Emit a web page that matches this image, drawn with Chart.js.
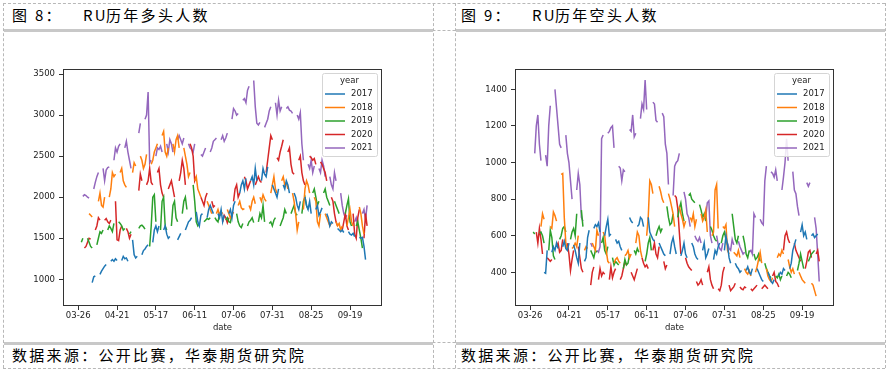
<!DOCTYPE html>
<html>
<head>
<meta charset="utf-8">
<script src="https://cdn.jsdelivr.net/npm/chart.js@4.4.1/dist/chart.umd.min.js"></script>
<style>
    body { margin:0; width:888px; height:371px; position:relative; background:#fff; overflow:hidden; }
    .dash-v { position:absolute; top:3px; height:365px; width:0; border-left:1px dashed #b8b8b8; }
    .dash-h { position:absolute; left:3px; width:882px; height:0; border-top:1px dashed #b8b8b8; }
    .bar { position:absolute; height:3px; background:#c8c8c8; }
    .cap { position:absolute; font-family:"Noto Sans CJK SC"; font-size:15px; line-height:15px; letter-spacing:2.3px; color:#000; white-space:pre; }
    canvas { position:absolute; }
</style>
</head>
<body>
<div class="dash-h" style="top:3px"></div>
<div class="dash-h" style="top:30px"></div>
<div class="dash-h" style="top:342px"></div>
<div class="dash-h" style="top:368px"></div>
<div class="dash-v" style="left:3px"></div>
<div class="dash-v" style="left:433px"></div>
<div class="dash-v" style="left:455px"></div>
<div class="dash-v" style="left:885px"></div>

<div class="bar" style="left:4px;width:429px;top:29px"></div>
<div class="bar" style="left:456px;width:429px;top:29px"></div>
<div class="bar" style="left:4px;width:429px;top:342px"></div>
<div class="bar" style="left:456px;width:429px;top:342px"></div>

<div class="cap" style="left:12px;top:7px">图 8：</div>
<div class="cap" style="left:83px;top:7px">RU</div>
<div class="cap" style="left:106px;top:7px">历年多头人数</div>
<div class="cap" style="left:461px;top:7px">图 9：</div>
<div class="cap" style="left:532px;top:7px">RU</div>
<div class="cap" style="left:555px;top:7px">历年空头人数</div>
<div class="cap" style="left:12px;top:347px">数据来源：公开比赛，华泰期货研究院</div>
<div class="cap" style="left:461px;top:347px">数据来源：公开比赛，华泰期货研究院</div>

<canvas id="longchart" width="429" height="309" style="left:4px;top:33px"></canvas>
<canvas id="shortchart" width="428" height="309" style="left:456px;top:33px"></canvas>

<script>
// years and colours of the series
const years = [2017, 2018, 2019, 2020, 2021]
const colors = ['#1f77b4', '#ff7f0e', '#2ca02c', '#d62728', '#9467bd']
// first trading day of each year in the data
const first_days = ['04-05', '04-02', '03-28', '03-30', '03-29']

// exchange holidays (no trading) inside the window
const holidays_2017 = ['04-03', '04-04', '05-01', '05-29', '05-30']
const holidays_2018 = ['04-05', '04-06', '04-30', '05-01', '06-18', '09-24']
const holidays_2019 = ['04-05', '05-01', '05-02', '05-03', '06-07', '09-13']
const holidays_2020 = ['04-06', '05-01', '05-04', '05-05', '06-25', '06-26']
const holidays_2021 = ['04-05', '05-03', '05-04', '05-05', '06-14', '09-20', '09-21']

// x tick labels and their positions on the date index
const tick_labels = ['03-26', '04-21', '05-17', '06-11', '07-06', '07-31', '08-25', '09-19']
const tick_pos = [0, 25, 50, 75, 100, 125, 150, 175]
const long_ticks = [1000, 1500, 2000, 2500, 3000, 3500]
const short_ticks = [400, 600, 800, 1000, 1200, 1400]

// long positions, one value per trading day
const longs_2017 = [960, 1030, 1040,
    1060, 1100, 1130, 1160, 1180,
    1220, 1240, 1220, 1250, 1230,
    1230, 1280, 1250, 1260, 1220,
    1480, 1300, 1260, 1280,
    1300, 1350, 1370, 1400, 1420,
    1450, 1600, 1650, 1580, 1650,
    1600, 1650, 1550, 1500, 1520,
    1480, 1520, 1560,
    1600, 1650, 1700, 1720, 1750,
    1820, 1700, 1650, 1780, 1800,
    1750, 1850, 1900, 1850, 1800,
    1800, 1750, 1850, 1700, 1780,
    1800, 1850, 1750, 1900, 1950,
    2050, 2150, 2200, 2100, 2230,
    2200, 2250, 2150, 2350, 2200,
    2200, 2350, 2280, 2250, 2370,
    2150, 2100, 2050, 2000, 2100,
    2150, 2100, 2200, 2150, 2050,
    2050, 2000, 1900, 1850, 1950,
    2000, 1900, 1850, 1950, 1800,
    1850, 1900, 1780, 1820, 1870,
    1800, 1750, 1650, 1700, 1680,
    1620, 1600, 1580, 1600, 1570,
    1580, 1550, 1540, 1560, 1520,
    1510, 1500, 1510, 1400, 1240]
const longs_2018 = [1800, 1780, 1760,
    1950, 2050, 1900, 1880, 2000,
    2000, 2100, 2300, 2250, 2280,
    2300, 2350, 2200, 2150, 2120,
    2300, 2420, 2380,
    2500, 2450, 2350, 2400, 2520,
    2400, 2450, 2550, 2600, 2650,
    2750, 2800, 2550, 2500, 2600,
    2650, 2550, 2700, 2750, 2600,
    2600, 2500, 2400, 2250, 2300,
    2200, 2250, 2100, 2050, 2000,
    1950, 1900, 1850, 1800,
    1800, 1850, 1780, 1820, 1800,
    1850, 1800, 1750, 1780, 1820,
    1900, 1950, 1870, 1850, 1860,
    1900, 1850, 1950, 2000, 1920,
    2000, 1950, 2030, 1980, 1950,
    2050, 2150, 2250, 2100, 2050,
    2200, 2250, 2150, 2180, 2100,
    2050, 1950, 1800, 1600, 1700,
    1850, 2100, 2200, 2150, 2050,
    2000, 1950, 1700, 1650, 1800,
    1800, 1750, 1700, 1650, 1680,
    1700, 1650, 1680, 1600, 1650,
    1650, 1750, 1850, 1700, 1650,
    1880, 1800, 1650, 1550]
const longs_2019 = [1450, 1500,
    1500, 1450, 1400, 1380,
    1420, 1500, 1580, 1560, 1600,
    1600, 1650, 1620, 1580, 1680,
    1700, 1680, 1650, 1600, 1620,
    1550, 1580,
    1620, 1650, 1660, 1640, 1610,
    1400, 1650, 2000, 2030, 1700,
    1600, 1950, 2000, 1650, 1600,
    1650, 1900, 1950, 1750, 1700,
    1800, 1950, 2000, 1850,
    2150, 1950, 1700, 1650, 1680,
    1700, 1720, 1740, 1730, 1750,
    1750, 1720, 1700, 1800, 1780,
    1720, 1750, 1700, 1690, 1800,
    1800, 1700, 1650, 1630, 1680,
    1650, 1700, 1720, 1750, 1690,
    1700, 1800, 1750, 1900, 1700,
    1680, 1700, 1650, 1720, 1750,
    1650, 1700, 1750, 1850, 1800,
    1800, 1850, 1900, 1800, 1780,
    1800, 1950, 2000, 1900, 1850,
    2050, 2100, 2000, 1900, 1950,
    2050, 2100, 2000, 1950, 1900,
    1950, 1900, 1850, 1800,
    1800, 1900, 1980, 1700, 1650,
    1650, 1700, 1600, 1500, 1380]
const longs_2020 = [1380, 1400, 1450, 1500, 1490,
    1600, 1650, 1750, 1720,
    1720, 1740, 1700, 1680, 1720,
    1950, 1480, 1470, 1600, 1650,
    1620, 1580, 1500, 1550,
    2080, 2280, 2200,
    2150, 2200, 2350, 2180, 2150,
    2300, 2350, 2150, 2050, 2000,
    2100, 2150, 2200, 2100, 2000,
    2200, 2300, 2450, 2350, 2150,
    2650, 2600, 2500, 2200, 2250,
    2000, 1950, 1900, 2000, 2050,
    1950, 1880, 1900,
    1700, 1780, 1750, 1690, 1750,
    1950, 2100, 2150, 2000, 2050,
    2250, 2200, 2100, 2150, 2200,
    2150, 2200, 2250, 2200, 2180,
    2300, 2450, 2600, 2750, 2700,
    2480, 2450, 2550, 2620, 2700,
    2550, 2600, 2400, 2300, 2280,
    2450, 2500, 2300, 2200, 2150,
    2500, 2480, 2450, 2470, 2400,
    2430, 2400, 2350, 2300, 2200,
    2000, 1950, 1800, 1700, 1650,
    1600, 1700, 1800, 1650, 1600,
    1800, 1550, 1500, 1750, 1850,
    1500, 1800, 1650]
const longs_2021 = [2010, 2030, 2020, 2000, 1990,
    2100, 2180, 2250, 2300,
    2350, 2200, 2330, 2360, 2370,
    2450, 2600, 2550, 2620, 2650,
    2600, 2680, 2550, 2450, 2350,
    2780, 2900,
    2950, 3000, 3280, 2420, 2450,
    2500, 2600, 2580, 2620, 2550,
    2650, 2550, 2700, 2650, 2550,
    2700, 2750, 2700, 2650, 2720,
    2650, 2600, 2580, 2550, 2650,
    2520, 2500, 2550, 2600,
    2550, 2600, 2680, 2700, 2720,
    2700, 2750, 2680, 2720, 2780,
    2950, 3080, 3050, 3000, 3020,
    3180, 3200, 3150, 3300, 3350,
    3420, 3100, 2900, 2880, 2910,
    2850, 2900, 2950, 3050, 3100,
    3150, 3000, 3180, 3050, 3100,
    3080, 3100, 3060, 3050, 3020,
    3000, 2950, 3030, 2650, 2450,
    2400, 2350, 2450, 2300, 2380,
    2350, 2300, 2450, 2380, 2250,
    2250, 2150, 2100, 2300, 2200,
    2050, 1900, 1800, 1750, 1780,
    1700, 1750, 1650,
    1800, 1850, 1730, 1900]

// short positions, one value per trading day
const shorts_2017 = [400, 395, 520,
    510, 540, 520, 560, 530,
    540, 570, 530, 520, 560,
    550, 520, 480, 450, 560,
    460, 480, 590, 630,
    640, 660, 650, 670, 620,
    600, 650, 690, 600, 610,
    580, 560, 570, 540, 520,
    700, 680, 670,
    650, 660, 700, 690, 650,
    700, 620, 600, 580, 570,
    560, 540, 520, 500, 490,
    500, 560, 590, 540, 500,
    490, 520, 560, 500, 480,
    560, 540, 500, 480, 470,
    520, 560, 480, 500, 530,
    470, 520, 500, 540, 560,
    520, 600, 550, 480, 450,
    450, 430, 420, 400, 410,
    410, 430, 400, 390, 420,
    420, 400, 380, 360, 350,
    400, 380, 350, 340, 360,
    380, 400, 390, 420, 410,
    420, 450, 520, 550, 580,
    620, 660, 600, 620, 580,
    600, 610, 590, 600, 610]
const shorts_2018 = [650, 720, 690,
    650, 640, 730, 710, 680,
    935, 940, 700, 560, 520,
    530, 540, 560, 540, 600,
    520, 540, 530,
    560, 540, 520, 630, 600,
    620, 600, 520, 460, 450,
    450, 470, 480, 460, 450,
    490, 500, 520, 480, 500,
    560, 620, 600, 520, 480,
    600, 700, 900, 880, 830,
    870, 840, 800, 780,
    830, 800, 760, 720, 650,
    760, 720, 690, 650, 680,
    700, 680, 720, 650, 690,
    720, 680, 700, 740, 620,
    600, 620, 850, 880, 640,
    650, 640, 660, 520, 500,
    510, 500, 490, 520, 480,
    420, 400, 390, 410, 380,
    400, 430, 470, 510, 450,
    420, 380, 360, 350, 370,
    480, 500, 490, 520, 500,
    470, 430, 400, 420, 390,
    400, 380, 360, 350, 340,
    340, 330, 300, 270]
const shorts_2019 = [620, 610,
    615, 620, 600, 560,
    520, 630, 590, 490, 470,
    580, 600, 640, 650, 620,
    580, 620, 640, 600, 720,
    740, 650,
    520, 500, 480, 520, 510,
    560, 590, 520, 500, 540,
    480, 440, 460, 450, 440,
    420, 470, 440, 450, 500,
    520, 500, 530, 510,
    460, 500, 560, 590, 520,
    600, 630, 650, 620, 640,
    760, 700, 660, 670, 720,
    700, 750, 780, 720, 680,
    820, 830, 800, 790, 780,
    770, 740, 700, 720, 680,
    650, 630, 600, 580, 570,
    560, 600, 620, 580, 550,
    720, 650, 580, 560, 600,
    600, 560, 500, 480, 520,
    500, 470, 480, 500, 460,
    450, 420, 400, 380, 370,
    380, 370, 390, 360, 380,
    380, 400, 390, 370,
    410, 450, 500, 460, 420,
    460, 480, 500, 510, 520]
const shorts_2020 = [620, 560, 640, 580, 500,
    480, 470, 460, 470,
    540, 560, 510, 520, 580,
    560, 500, 410, 470, 520,
    540, 480, 420, 400,
    330, 400, 430,
    360, 420, 380, 400, 390,
    360, 430, 370, 400, 420,
    360, 380, 420, 460, 440,
    400, 380, 360, 390, 420,
    480, 450, 430, 440, 420,
    520, 560, 500, 480, 540,
    460, 420, 440,
    820, 810, 750, 620, 500,
    480, 450, 430, 420, 410,
    350, 330, 340, 360, 330,
    400, 430, 360, 330, 310,
    310, 300, 330, 400, 430,
    330, 300, 310, 320, 340,
    320, 310, 305, 320, 315,
    310, 300, 310, 320, 330,
    310, 320, 330, 320, 310,
    380, 400, 350, 340, 320,
    520, 600, 620, 580, 560,
    560, 520, 500, 480, 460,
    420, 460, 510, 520, 480,
    500, 520, 460]
const shorts_2021 = [1050, 1200, 1260, 1100, 1010,
    1040, 980, 1200, 1310,
    1400, 1300, 1200, 1100, 1080,
    1150, 1050, 1000, 900, 800,
    850, 940, 880, 700, 680,
    560, 540,
    520, 510, 540, 1130, 1150,
    1160, 1170, 1190, 1200, 1080,
    980, 970, 900, 960, 950,
    1180, 1170, 1260, 1140, 1160,
    1240, 1320, 1290, 1450, 1290,
    1330, 1320, 1230, 1220,
    1270, 1250, 1100, 1050, 880,
    820, 980, 1000, 1010, 1050,
    840, 800, 720, 700, 650,
    600, 580, 570, 590, 560,
    700, 780, 790, 600, 560,
    600, 550, 530, 520, 560,
    560, 530, 520, 580, 550,
    570, 540, 520, 500, 510,
    510, 520, 500, 720, 700,
    690, 670, 660, 900, 980,
    950, 940, 920, 960, 900,
    850, 920, 1000, 1130, 1010,
    950, 850, 830, 760, 710,
    890, 870, 890,
    700, 640, 500, 350]

const holidays = [holidays_2017, holidays_2018, holidays_2019, holidays_2020, holidays_2021]
const longs = [longs_2017, longs_2018, longs_2019, longs_2020, longs_2021]
const shorts = [shorts_2017, shorts_2018, shorts_2019, shorts_2020, shorts_2021]

Chart.defaults.font.family = '"DejaVu Sans"'
Chart.defaults.font.size = 8.5
Chart.defaults.color = '#222'

function date_position(key) {
    // position of a MM-DD day on the union index of all years
    let [m, d] = key.split('-').map(Number)
    let n = (Date.UTC(2001, m - 1, d) - Date.UTC(2001, 2, 26)) / 864e5
    if (key > '04-04') n -= 1
    if (key > '05-01') n -= 1
    return n
}

function build_points(year, first_day, values, closed) {
    let pts = []
    let [fm, fd] = first_day.split('-').map(Number)
    let d = new Date(Date.UTC(year, fm - 1, fd))
    let end = new Date(Date.UTC(year, 8, 30))
    let k = 0
    while (d <= end && k < values.length) {
        let key = String(d.getUTCMonth() + 1).padStart(2, '0') + '-' + String(d.getUTCDate()).padStart(2, '0')
        let wd = d.getUTCDay()
        if (wd == 0 || wd == 6 || closed.includes(key)) {
            pts.push({x: date_position(key), y: null})
        } else {
            pts.push({x: date_position(key), y: values[k]})
            k++
        }
        d.setUTCDate(d.getUTCDate() + 1)
    }
    return pts
}

const frame_plugin = {
    id: 'frame',
    afterDraw(chart) {
        let {ctx, chartArea: a} = chart
        ctx.save()
        ctx.strokeStyle = '#333'
        ctx.lineWidth = 1
        ctx.strokeRect(Math.round(a.left) + 0.5, Math.round(a.top) + 0.5,
            Math.round(a.right - a.left) - 1, Math.round(a.bottom - a.top) - 1)
        ctx.restore()
    }
}

const legend_plugin = {
    id: 'yearlegend',
    afterDraw(chart) {
        let {ctx, chartArea: a} = chart
        let w = 55, h = 83
        let x = Math.round(a.right) - 5 - w, y = Math.round(a.top) + 4
        ctx.save()
        ctx.fillStyle = 'rgba(255,255,255,0.85)'
        ctx.strokeStyle = '#d5d5d5'
        ctx.lineWidth = 1
        ctx.beginPath()
        ctx.roundRect(x + 0.5, y + 0.5, w, h, 2)
        ctx.fill()
        ctx.stroke()
        ctx.font = '8.5px "DejaVu Sans"'
        ctx.fillStyle = '#222'
        ctx.textBaseline = 'middle'
        ctx.textAlign = 'center'
        ctx.fillText('year', x + w / 2, y + 8)
        ctx.textAlign = 'left'
        chart.data.datasets.forEach((ds, i) => {
            let ly = y + 21 + i * 13.5
            ctx.strokeStyle = ds.borderColor
            ctx.lineWidth = 1.5
            ctx.beginPath()
            ctx.moveTo(x + 3, ly)
            ctx.lineTo(x + 23, ly)
            ctx.stroke()
            ctx.fillText(ds.label, x + 29, ly)
        })
        ctx.restore()
    }
}

function setup_chart(id, series, y_min, y_max, y_ticks, x_min, x_max, pad_right) {
    let datasets = years.map((yr, i) => ({
        label: String(yr),
        data: build_points(yr, first_days[i], series[i], holidays[i]),
        borderColor: colors[i],
        backgroundColor: colors[i],
        borderWidth: 1.5,
        pointRadius: 0,
        tension: 0,
        spanGaps: false
    }))

    new Chart(document.querySelector(id), {
        type: 'line',
        data: {datasets: datasets},
        plugins: [frame_plugin, legend_plugin],
        options: {
            responsive: false,
            animation: false,
            devicePixelRatio: 1,
            layout: {padding: {left: 19, right: pad_right, top: 36, bottom: 8}},
            plugins: {legend: {display: false}, tooltip: {enabled: false}},
            scales: {
                x: {
                    type: 'linear',
                    min: x_min,
                    max: x_max,
                    afterBuildTicks: (scale) => { scale.ticks = tick_pos.map(v => ({value: v})) },
                    afterFit: (scale) => { scale.height = 28 },
                    ticks: {
                        autoSkip: false,
                        maxRotation: 0,
                        padding: 1,
                        callback: (v) => tick_labels[tick_pos.indexOf(v)]
                    },
                    grid: {drawOnChartArea: false, drawTicks: true, tickLength: 4, tickColor: '#333'},
                    border: {display: false},
                    title: {display: true, text: 'date', padding: {top: 0, bottom: 1}}
                },
                y: {
                    min: y_min,
                    max: y_max,
                    afterBuildTicks: (scale) => { scale.ticks = y_ticks.map(v => ({value: v})) },
                    afterFit: (scale) => { scale.width = 40 },
                    ticks: {padding: 4, callback: (v) => String(v)},
                    grid: {drawOnChartArea: false, drawTicks: true, tickLength: 4, tickColor: '#333'},
                    border: {display: false}
                }
            }
        }
    })
}

setup_chart('#longchart', longs, 675, 3561, long_ticks, -9.8, 195.6, 51)
setup_chart('#shortchart', shorts, 216, 1511, short_ticks, -9.7, 195.5, 50)
</script>
</body>
</html>
